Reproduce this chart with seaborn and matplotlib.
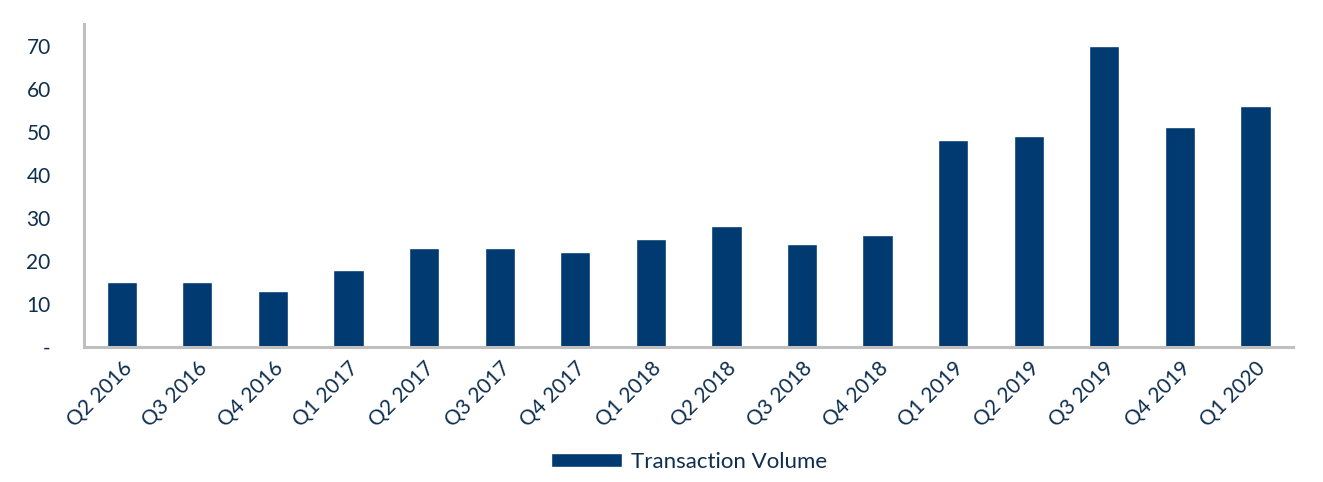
import pandas as pd
import matplotlib
matplotlib.use('Agg')  # no display in the sandbox
import matplotlib.pyplot as plt
import seaborn as sns

# Quarterly transaction volume
quarters = ['Q2 2016', 'Q3 2016', 'Q4 2016', 'Q1 2017', 'Q2 2017', 'Q3 2017',
            'Q4 2017', 'Q1 2018', 'Q2 2018', 'Q3 2018', 'Q4 2018', 'Q1 2019',
            'Q2 2019', 'Q3 2019', 'Q4 2019', 'Q1 2020']
volume = [15, 15, 13, 18, 23, 23, 22, 25, 28, 24, 26, 48, 49, 70, 51, 56]
y_ticks = [0, 10, 20, 30, 40, 50, 60, 70]
y_labels = ['-', '10', '20', '30', '40', '50', '60', '70']

data = pd.DataFrame({'Quarter': quarters, 'Transaction Volume': volume})

navy = '#003A70'
text_col = '#0E2E4E'
spine_col = '#BFBFBF'

sns.set_style('white')
plt.rcParams['font.family'] = ['Lato', 'DejaVu Sans']

fig = plt.figure(figsize=(13.23, 4.82), dpi=100)
ax = fig.add_axes([0.0635, 0.28, 0.914, 0.67])

sns.barplot(data=data, x='Quarter', y='Transaction Volume', color=navy,
            width=0.4, saturation=1, ax=ax, label='Transaction Volume')

ax.set_ylim(0, 75)
ax.set_xlim(-0.5, len(quarters) - 0.5)
ax.set_yticks(y_ticks)
ax.set_yticklabels(y_labels, fontsize=15, color=text_col)
ax.set_xticks(range(len(quarters)))
ax.set_xticklabels(quarters, rotation=45, ha='right', rotation_mode='anchor',
                   fontsize=15, color=text_col)
ax.tick_params(axis='both', length=0)
ax.tick_params(axis='y', pad=24)
ax.tick_params(axis='x', pad=8)
ax.set_xlabel('')
ax.set_ylabel('')

# only left and bottom gray axis lines
for side in ['top', 'right']:
    ax.spines[side].set_visible(False)
for side in ['left', 'bottom']:
    ax.spines[side].set_color(spine_col)
    ax.spines[side].set_linewidth(2.2)

leg = ax.legend(loc='center', bbox_to_anchor=(0.5, -0.355), frameon=False,
                fontsize=16, handlelength=3.2, handleheight=0.6,
                handletextpad=0.4)
for t in leg.get_texts():
    t.set_color(text_col)

fig.savefig('out.png', dpi=100)
